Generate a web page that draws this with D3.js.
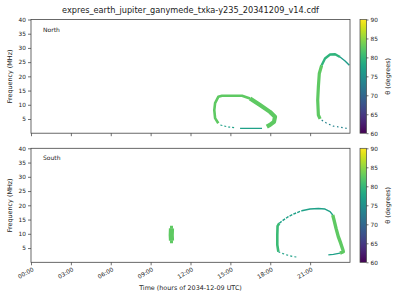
<!DOCTYPE html>
<html><head><meta charset="utf-8">
<script src="https://cdn.jsdelivr.net/npm/d3@7"></script>
<style>
body{margin:0;background:#fff}
svg{display:block}
text{font-family:"DejaVu Sans",sans-serif;fill:#222}
</style>
</head><body>
<svg id="c" width="400" height="300"></svg>
<script>
// ---------- data ----------
const titleText = "expres_earth_jupiter_ganymede_txka-y235_20341209_v14.cdf";
const xTicks = [0, 3, 6, 9, 12, 15, 18, 21];
const xTickLabels = ["00:00", "03:00", "06:00", "09:00", "12:00", "15:00", "18:00", "21:00"];
const yTicks = [5, 10, 15, 20, 25, 30, 35, 40];
const cbTicks = [60, 65, 70, 75, 80, 85, 90];
const panelNames = ["North", "South"];

// each point: [hour, frequency MHz]; theta (deg) given per curve
const nLoopLeftTop = [[14.09,3.5],[13.85,5.3],[13.79,8.1],[13.85,10.6],[14.09,12.8],[14.37,13.2],[15.12,13.2],[15.88,13.2],[16.48,12.2]];
const nLoopRight = [[16.48,12.2],[17.23,9.9],[17.98,7.5],[18.36,5.8],[18.28,4.0],[17.98,2.9],[17.74,2.3]];
const nLoopBaseDash = [[14.25,2.9],[14.8,2.2],[15.4,1.9]];
const nLoopBase = [[15.73,1.7],[17.38,1.7]];
const nArcLowDash = [[21.87,4.6],[22.25,3.5],[22.75,2.5],[23.25,2.1],[23.75,1.7]];
const nArcLeft = [[21.75,5.0],[21.62,6.4],[21.57,11.6],[21.62,16.3],[21.69,21.0],[21.87,23.9]];
const nArcTop = [[21.87,23.9],[22.12,26.3],[22.5,27.7],[22.88,27.8],[23.25,26.8]];
const nArcTail = [[23.25,26.8],[23.63,25.4],[23.95,23.9]];

const sSpotMid = [[10.57,7.6],[10.55,9.5],[10.57,11.9]];
const sSpotEnds1 = [[10.57,6.7],[10.57,7.7]];
const sSpotEnds2 = [[10.57,11.8],[10.57,12.8]];
const sLoopLeft = [[18.61,3.7],[18.53,6.1],[18.53,9.6],[18.55,12.7],[18.68,13.7]];
const sLoopTopDash = [[18.68,13.7],[18.98,14.8],[19.36,16.0],[19.74,16.9],[20.37,18.1]];
const sLoopTop = [[20.37,18.1],[20.99,18.7],[21.62,18.9],[22.12,18.7],[22.5,17.8],[22.7,16.6]];
const sLoopRight = [[22.7,16.6],[22.8,14.8],[22.95,11.9],[23.12,9.0],[23.3,6.7],[23.45,4.6],[23.5,3.7],[23.25,3.2]];
const sLoopBaseLeft = [[18.61,3.7],[18.86,3.2],[19.24,2.6],[19.74,2.0],[20.11,1.75]];
const sLoopBaseRight = [[23.25,3.2],[22.75,2.8],[22.37,2.6]];

const northThetas = [82.5, 82.5, 77, 77, 73.5, 82.5, 79.5, 76.5];
const southThetas = [82.5, 82.5, 82.5, 80.5, 77, 77, 82.5, 77, 77];

// ---------- styles (kept apart from data) ----------
const northCurves = [nLoopLeftTop, nLoopRight, nLoopBaseDash, nLoopBase, nArcLowDash, nArcLeft, nArcTop, nArcTail];
const northStyle = [{w:2.6},{w:4.2},{w:1.2,d:"2,2"},{w:1.3},{w:1.2,d:"1.6,2.6"},{w:3.2},{w:2.4},{w:1.4}];
const southCurves = [sSpotMid, sSpotEnds1, sSpotEnds2, sLoopLeft, sLoopTopDash, sLoopTop, sLoopRight, sLoopBaseLeft, sLoopBaseRight];
const southStyle = [{w:5.2},{w:3},{w:3},{w:2.6},{w:1.4,d:"3,1.2"},{w:1.4},{w:3.4},{w:1.2,d:"2,2.2"},{w:1.3}];

// ---------- layout ----------
const svg = d3.select("#c");
const L = 31, R = 350;
const panels = [
  {name: panelNames[0], top: 19.5, bot: 133.2, curves: northCurves, styles: northStyle, thetas: northThetas, labels: false},
  {name: panelNames[1], top: 148.3, bot: 262.3, curves: southCurves, styles: southStyle, thetas: southThetas, labels: true}
];
const x = d3.scaleLinear().domain([0, 24]).range([L, R]);
const color = d3.scaleSequential(d3.interpolateViridis).domain([60, 90]);

svg.append("text").attr("x", (L + R) / 2).attr("y", 13).attr("text-anchor", "middle")
  .style("font-size", "8.2px").text(titleText);

const defs = svg.append("defs");
const grad = defs.append("linearGradient").attr("id", "vir").attr("x1", 0).attr("y1", 1).attr("x2", 0).attr("y2", 0);
d3.range(0, 1.0001, 0.05).forEach(t => grad.append("stop").attr("offset", t).attr("stop-color", d3.interpolateViridis(t)));

panels.forEach((p, i) => {
  const y = d3.scaleLinear().domain([0, 40]).range([p.bot, p.top]);
  const g = svg.append("g");
  const clipId = "clip" + i;
  defs.append("clipPath").attr("id", clipId).append("rect")
    .attr("x", L).attr("y", p.top).attr("width", R - L).attr("height", p.bot - p.top);

  const line = d3.line().x(d => x(d[0])).y(d => y(d[1])).curve(d3.curveLinear);
  const cg = g.append("g").attr("clip-path", `url(#${clipId})`);
  p.curves.forEach((c, k) => {
    const st = p.styles[k];
    cg.append("path").attr("d", line(c)).attr("fill", "none")
      .attr("stroke", color(p.thetas[k])).attr("stroke-width", st.w)
      .attr("stroke-linejoin", "round")
      .attr("stroke-dasharray", st.d || null);
  });

  // axes
  const ya = g.append("g").attr("transform", `translate(${L},0)`)
    .call(d3.axisLeft(y).tickValues(yTicks).tickSize(3).tickPadding(2));
  ya.select(".domain").remove();
  ya.selectAll("text").style("font-size", "5.8px").style("font-family", "DejaVu Sans");
  ya.selectAll("line").attr("stroke", "#333").attr("stroke-width", 0.7);

  const xa = g.append("g").attr("transform", `translate(0,${p.bot})`)
    .call(d3.axisBottom(x).tickValues(xTicks).tickSize(3).tickFormat(""));
  xa.select(".domain").remove();
  xa.selectAll("line").attr("stroke", "#333").attr("stroke-width", 0.7);

  if (p.labels) {
    xTicks.forEach((t, k) => {
      g.append("text")
        .attr("transform", `translate(${x(t) + 1.5},${p.bot + 5.5}) rotate(-30)`)
        .attr("text-anchor", "end").attr("dy", "0.55em")
        .style("font-size", "5.8px").text(xTickLabels[k]);
    });
    g.append("text").attr("x", (L + R) / 2).attr("y", 289.5).attr("text-anchor", "middle")
      .style("font-size", "6.4px").text("Time (hours of 2034-12-09 UTC)");
  }

  g.append("rect").attr("x", L).attr("y", p.top).attr("width", R - L).attr("height", p.bot - p.top)
    .attr("fill", "none").attr("stroke", "#444").attr("stroke-width", 0.8);

  g.append("text").attr("x", 43).attr("y", p.top + 12).style("font-size", "6px").text(p.name);

  g.append("text").attr("transform", `translate(12,${(p.top + p.bot) / 2}) rotate(-90)`)
    .attr("text-anchor", "middle").style("font-size", "6.4px").text("Frequency (MHz)");

  // colorbar
  const cb = d3.scaleLinear().domain([60, 90]).range([p.bot, p.top]);
  g.append("rect").attr("x", 360).attr("y", p.top).attr("width", 6.5).attr("height", p.bot - p.top)
    .attr("fill", "url(#vir)").attr("stroke", "#444").attr("stroke-width", 0.7);
  const ca = g.append("g").attr("transform", "translate(366.5,0)")
    .call(d3.axisRight(cb).tickValues(cbTicks).tickSize(2).tickPadding(2));
  ca.select(".domain").remove();
  ca.selectAll("text").style("font-size", "5.8px").style("font-family", "DejaVu Sans");
  ca.selectAll("line").attr("stroke", "#333").attr("stroke-width", 0.7);
  g.append("text").attr("transform", `translate(390,${(p.top + p.bot) / 2}) rotate(-90)`)
    .attr("text-anchor", "middle").style("font-size", "6.4px").text("θ (degrees)");
});
</script>
</body></html>
